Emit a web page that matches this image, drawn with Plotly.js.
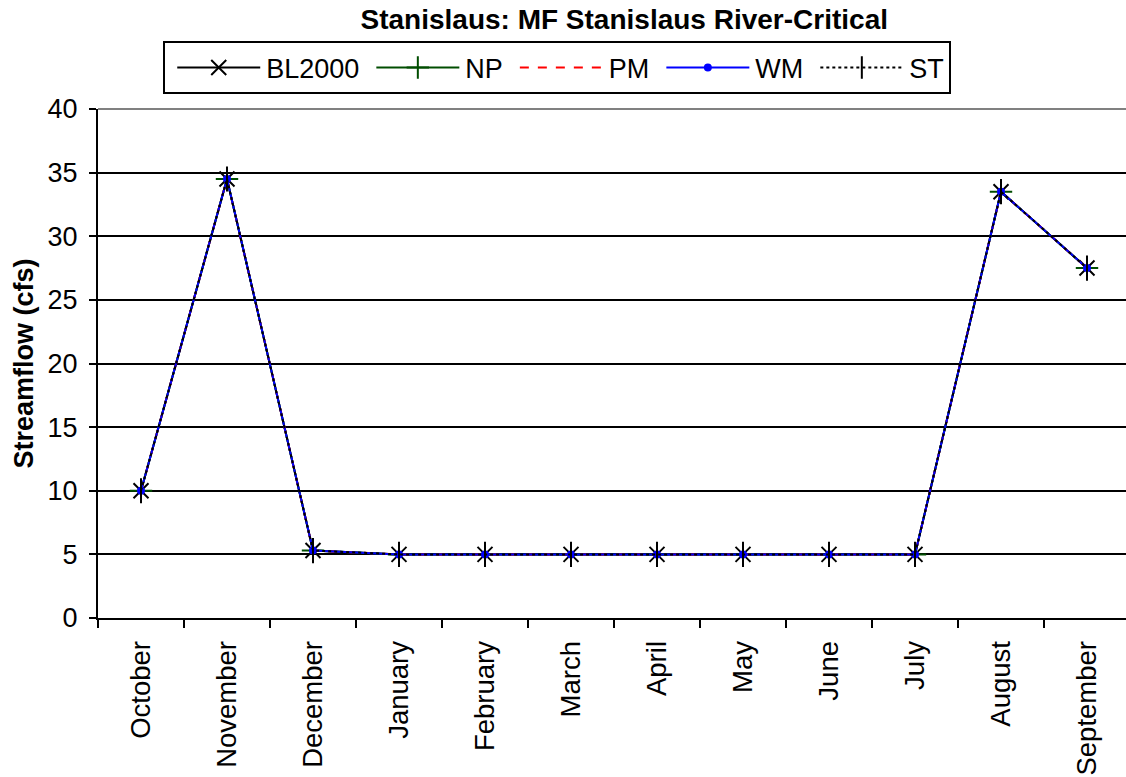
<!DOCTYPE html>
<html><head><meta charset="utf-8">
<script src="https://cdn.plot.ly/plotly-3.0.1.min.js"></script>
<style>html,body{margin:0;padding:0;overflow:hidden;background:#fff}</style>
</head><body><div id="chart"></div>
<script>
const months = ["October","November","December","January","February","March","April","May","June","July","August","September"];
const BL2000 = [10,34.5,5.3,5,5,5,5,5,5,5,33.5,27.5];
const NP = [10,34.5,5.3,5,5,5,5,5,5,5,33.5,27.5];
const PM = [10,34.5,5.3,5,5,5,5,5,5,5,33.5,27.5];
const WM = [10,34.5,5.3,5,5,5,5,5,5,5,33.5,27.5];
const ST = [10,34.5,5.3,5,5,5,5,5,5,5,33.5,27.5];

const font = "Liberation Sans, Arial, sans-serif";
const traces = [
 {name:"BL2000", x:months, y:BL2000, mode:"lines+markers", line:{color:"#000",width:2},
  marker:{symbol:"x-thin-open", size:15, color:"#000", line:{color:"#000",width:2}}},
 {name:"NP", x:months, y:NP, mode:"lines+markers", line:{color:"#004d00",width:2},
  marker:{symbol:"cross-thin-open", size:16, color:"#004d00", line:{color:"#004d00",width:2}}},
 {name:"PM", x:months, y:PM, mode:"lines", line:{color:"#ff0000",width:2,dash:"dash"}},
 {name:"WM", x:months, y:WM, mode:"lines+markers", line:{color:"#0000ff",width:2},
  marker:{symbol:"circle", size:8, color:"#0000ff"}},
 {name:"ST", x:months, y:ST, mode:"lines+markers", line:{color:"#000",width:2,dash:"dot"},
  marker:{symbol:"line-ns-open", size:18, color:"#000", line:{color:"#000",width:2}}}
];
const layout = {
 width:1135, height:777,
 margin:{l:98, r:5, t:109, b:159},
 paper_bgcolor:"#fff", plot_bgcolor:"#fff",
 font:{family:font, size:27, color:"#000"},
 title:{text:"<b>Stanislaus: MF Stanislaus River-Critical</b>", font:{family:font,size:28,color:"#000"}, x:0.55, xanchor:"center", y:0.975, yanchor:"middle"},
 showlegend:true,
 legend:{orientation:"h", x:0.445, xanchor:"center", y:1.0806, yanchor:"middle", bordercolor:"#000", borderwidth:2,
   font:{family:font,size:27,color:"#000"}, itemwidth:91, bgcolor:"#fff", traceorder:"normal", tracegroupgap:0},
 xaxis:{type:"category", categoryorder:"array", categoryarray:months, tickson:"boundaries",
   ticks:"outside", ticklen:8, tickwidth:2, tickcolor:"#000", showgrid:false, showline:true, linecolor:"#000", linewidth:2,
   tickangle:-90, ticklabelstandoff:10, tickfont:{family:font,size:27.5,color:"#000"}, range:[-0.5,11.5], zeroline:false},
 yaxis:{range:[0,40], dtick:5, ticks:"outside", ticklen:7, tickwidth:2, tickcolor:"#000", showgrid:true, gridcolor:"#000", gridwidth:2,
   showline:true, linecolor:"#000", linewidth:2, zeroline:false, ticklabelstandoff:6, tickfont:{family:font,size:27,color:"#000"},
   title:{text:"<b>Streamflow (cfs)</b>", font:{family:font,size:27,color:"#000"}, standoff:6}},
 shapes:[{type:"line", xref:"paper", yref:"paper", x0:0, x1:1, y0:1, y1:1, line:{color:"#808080",width:2}, layer:"above"}]
};
Plotly.newPlot("chart", traces, layout, {displayModeBar:false, staticPlot:true}).then(function(gd){
  // lengthen legend line samples to fill the symbol area (as in the reference)
  document.querySelectorAll('.legend .legendlines path').forEach(function(p){ p.setAttribute('d','M12,0h83'); });
  document.querySelectorAll('.legend .legendpoints path.scatterpts').forEach(function(p){ p.setAttribute('transform','translate(53.5,0)'); });
});
</script></body></html>
